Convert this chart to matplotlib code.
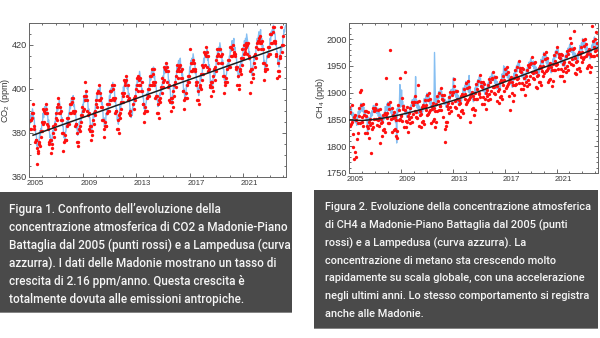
import numpy as np
import matplotlib
matplotlib.use("Agg")
import matplotlib.pyplot as plt
from matplotlib.patches import Rectangle
from matplotlib.transforms import ScaledTranslation
from matplotlib.ticker import MultipleLocator

nan = np.nan

# CO2 at Lampedusa, half-monthly values (ppm), Jan 2005 - Mar 2024
co2_lampedusa = [
    385, 384, 388, 386, 389, 387, 391, 389, 387, 387, 382, 383, 379, 379, 374, 375, 374, 376, 377, 381, 379, 382, 381, 385,
    385, 389, 387, 390, 392, 390, 391, 393, 388, 389, 385, 386, 383, 378, 379, 375, 377, 376, 381, 380, 383, 381, 385, 385,
    389, 388, 392, 390, 393, 391, 395, 393, 391, 391, 386, 387, 383, 383, 378, 379, 376, 380, 381, 385, 383, 386, 385, 389,
    389, 393, 391, 394, 396, 394, 395, 397, 392, 393, 389, 390, 387, 382, 383, 379, 381, 380, 385, 384, 387, 385, 389, 389,
    393, 392, 396, 394, 397, 395, 399, 397, 395, 395, 390, 391, 387, 387, 382, 383, 380, 384, 385, 389, 387, 390, 389, 393,
    393, 397, 395, 398, 400, 398, 399, 401, 396, 397, 393, 394, 391, 386, 387, 383, 385, 384, 389, 388, 391, 389, 393, 393,
    397, 396, 400, 398, 401, 399, 403, 401, 399, 399, 394, 395, 391, 391, 386, 387, 384, 388, 389, 393, 391, 394, 393, 397,
    397, 401, 399, 402, 404, 402, 403, 405, 400, 401, 397, 398, 395, 390, 391, 387, 389, 388, 393, 392, 395, 393, 397, 397,
    402, 401, 405, 403, 406, 404, 408, 406, 404, 404, 399, 400, 396, 396, 391, 392, 389, 393, 394, 398, 396, 399, 398, 402,
    402, 406, 404, 407, 409, 407, 408, 410, 405, 406, 402, 403, 400, 395, 396, 392, 394, 393, 398, 397, 400, 398, 402, 402,
    406, 405, 409, 407, 410, 408, 412, 410, 408, 408, 403, 404, 400, 400, 395, 396, 393, 397, 398, 402, 400, 403, 402, 406,
    406, 410, 408, 411, 413, 411, 412, 414, 409, 410, 406, 407, 404, 399, 400, 396, 398, 397, 402, 401, 404, 402, 406, 406,
    410, 409, 413, 411, 414, 412, 416, 414, 412, 412, 407, 408, 404, 404, 399, 400, 397, 401, 402, 406, 404, 407, 406, 410,
    410, 414, 412, 415, 417, 415, 416, 418, 413, 414, 410, 411, 408, 403, 404, 400, 402, 401, 406, 405, 408, 406, 410, 410,
    415, 414, 418, 416, 419, 417, 421, 419, 417, 417, 412, 413, 409, 409, 404, 405, 402, 406, 407, 411, 409, 412, 411, 415,
    415, 419, 417, 420, 422, 420, 421, 423, 418, 419, 415, 416, 413, 408, 409, 405, 407, 406, 411, 410, 413, 411, 415, 415,
    419, 418, 422, 420, 423, 421, 425, 423, 421, 421, 416, 417, 413, 413, 408, 409, 406, 410, 411, 415, 413, 416, 415, 419,
    419, 423, 421, 424, 426, 424, 425, 427, 422, 423, 419, 420, 417, 412, 413, 409, 411, 410, 415, 414, 417, 415, 419, 419,
    423, 422, 426, 424, 427, 425, 429, 427, 425, 425, 420, 421, 417, 417, 412, 413, 410, 414, 415, 419, 417, 420, 419, 423,
    424, 427, 426, 428, 429,
]

# CO2 at Madonie - Piano Battaglia, half-monthly samples (ppm), 2005 - 2023
co2_madonie = [
    386, 382, 386, 382, 389, 387, 393, 389, 382, 383, 376, 377, 377, 366, 373, 371, 372, 375, 376, 374, 381, 378, 385, 381,
    384, 391, 385, 390, 389, 393, 391, 384, 389, 382, 383, 376, 375, 377, 371, 377, 375, 373, 380, 383, 378, 384, 382, 387,
    389, 392, 386, 393, 396, 389, 392, 389, 386, 390, 386, 380, 380, 372, 376, 377, 379, 377, 377, 383, 387, 384, 387, 384,
    393, 389, 393, 389, 396, 394, 390, 396, 389, 390, 383, 384, 384, 376, 380, 376, 374, 382, 383, 381, 388, 385, 392, 388,
    390, 397, 391, 403, 395, 399, 397, 390, 395, 388, 389, 382, 381, 383, 377, 383, 381, 379, 386, 389, 384, 390, 388, 393,
    395, 398, 392, 399, 402, 395, 398, 395, 392, 396, 392, 386, 386, 378, 382, 383, 385, 383, 383, 389, 393, 390, 393, 390,
    399, 395, 399, 395, 402, 400, 396, 402, 395, 396, 389, 390, 390, 382, 386, 382, 380, 388, 389, 387, 394, 391, 398, 394,
    397, 404, 398, 403, 402, 406, 404, 397, 402, 395, 396, 389, 388, 390, nan, nan, nan, nan, 393, 396, 391, 397, 395, 400,
    402, 405, 399, 406, 404, 402, 405, 402, 399, 403, 399, 393, 393, 385, 389, 390, 392, 390, 390, 396, 400, 397, 400, 397,
    406, 402, 406, 402, 409, 407, 403, 409, 402, 403, 396, 397, 397, 389, 393, 389, 387, 395, 396, 394, 401, 398, 405, 401,
    403, 410, 404, 409, 408, 412, 410, 403, 408, 401, 402, 395, 394, 396, 390, 396, 394, 392, 399, 402, 397, 403, 401, 406,
    408, 411, 405, 409, 410, 408, 411, 408, 405, 409, 405, 399, 399, 391, 395, 396, 398, 396, 396, 402, 406, 403, 406, 403,
    418, 408, 412, 408, 412, 413, 409, 412, 408, 409, 402, 403, 403, 395, 399, 395, 393, 401, 402, 400, 407, 404, 411, 407,
    410, 417, 411, 416, 415, 419, 417, 410, 415, 408, 409, 402, 401, 403, 397, 403, 401, 399, 406, 409, 404, 410, 408, 413,
    415, 418, 412, 416, 418, 415, 418, 415, 412, 416, 412, 406, 406, 398, 402, 403, 405, 403, 403, 409, 413, 410, 413, 410,
    419, 415, 419, 415, 418, 420, 416, 417, 415, 416, 409, 410, 410, 402, 406, 402, 400, 408, 409, 407, 414, 411, 418, 414,
    416, 420, 417, 418, 421, 419, 420, 416, 421, 414, 415, 408, 398, 409, 403, 409, 407, 405, 412, 415, 410, 416, 414, 419,
    421, 422, 418, 422, 423, 421, 424, 421, 418, 422, 418, 412, 412, 404, 408, 409, 411, 409, 409, 415, 419, 416, 419, 416,
    425, 421, 425, 421, 428, 426, 422, 428, 421, 422, 415, 416, 405, 408, 412, 408, 406, 414, 415, 428, 420, 417, 424, 420,
]

# linear fit of the Madonie CO2 record (2.16 ppm/yr)
co2_trend_years = [2005.3, 2023.8]
co2_trend_ppm = [379.0, 419.0]

# CH4 at Lampedusa, half-monthly values (ppb), Jan 2005 - Mar 2024
ch4_lampedusa = [
    1898, 1862, 1872, 1863, 1873, 1857, 1863, 1852, 1862, 1855, 1846, 1858, 1844, 1850, 1839, 1856, 1852, 1865, 1857, 1870, 1862, 1874, 1880, 1868,
    1865, 1876, 1864, 1873, 1857, 1863, 1866, 1854, 1848, 1858, 1822, 1843, 1854, 1843, 1851, 1842, 1862, 1855, 1866, 1857, 1870, 1876, 1866, 1875,
    1875, 1876, 1862, 1869, 1861, 1871, 1856, 1864, 1860, 1846, 1860, 1848, 1854, 1856, 1844, 1853, 1849, 1863, 1860, 1874, 1866, 1870, 1879, 1865,
    1882, 1867, 1877, 1868, 1878, 1862, 1868, 1857, 1867, 1860, 1851, 1863, 1849, 1855, 1844, 1861, 1806, 1870, 1862, 1875, 1867, 1879, 1915, 1873,
    1876, 1905, 1875, 1884, 1868, 1874, 1877, 1865, 1859, 1869, 1865, 1854, 1865, 1854, 1862, 1853, 1873, 1866, 1877, 1868, 1881, 1887, 1877, 1886,
    1890, 1891, 1877, 1930, 1876, 1886, 1871, 1879, 1875, 1861, 1875, 1863, 1869, 1871, 1859, 1868, 1864, 1878, 1875, 1889, 1881, 1885, 1894, 1880,
    1899, 1884, 1894, 1885, 1895, 1879, 1885, 1874, 1884, 1877, 1868, 1880, 1866, 1872, 1975, 1920, 1874, 1887, 1879, 1892, 1884, 1896, 1902, 1890,
    1895, 1906, 1894, 1903, 1887, 1893, 1896, 1884, 1878, 1888, 1884, 1873, 1884, 1873, 1881, 1872, 1892, 1885, 1896, 1887, 1900, 1906, 1896, 1905,
    1910, 1928, 1897, 1904, 1896, 1906, 1891, 1899, 1895, 1881, 1895, 1883, 1889, 1891, 1879, 1888, 1884, 1898, 1895, 1909, 1901, 1905, 1914, 1900,
    1921, 1906, 1916, 1907, 1917, 1901, 1932, 1896, 1906, 1899, 1890, 1902, 1888, 1894, 1883, 1900, 1896, 1909, 1901, 1914, 1906, 1918, 1924, 1912,
    1919, 1930, 1918, 1927, 1911, 1917, 1920, 1908, 1902, 1912, 1908, 1897, 1908, 1897, 1905, 1896, 1916, 1909, 1920, 1911, 1924, 1930, 1920, 1929,
    1936, 1937, 1923, 1930, 1922, 1932, 1917, 1925, 1921, 1907, 1921, 1909, 1915, 1917, 1905, 1914, 1910, 1924, 1921, 1935, 1927, 1931, 1950, 1926,
    1948, 1933, 1943, 1934, 1944, 1928, 1934, 1923, 1933, 1926, 1917, 1929, 1915, 1921, 1910, 1927, 1923, 1936, 1928, 1941, 1933, 1945, 1951, 1939,
    1946, 1957, 1945, 1954, 1938, 1944, 1947, 1935, 1929, 1939, 1935, 1924, 1935, 1924, 1932, 1923, 1943, 1936, 1947, 1938, 1951, 1957, 1947, 1956,
    1963, 1964, 1950, 1957, 1949, 1959, 1944, 1952, 1948, 1934, 1948, 1936, 1942, 1944, 1932, 1941, 1937, 1951, 1948, 1962, 1954, 1958, 1967, 1953,
    1975, 1960, 1970, 1961, 1971, 1955, 1961, 1950, 1960, 1953, 1944, 1956, 1942, 1948, 1937, 1954, 1950, 1963, 1955, 1968, 1960, 1972, 1978, 1966,
    1972, 1983, 1971, 1980, 1964, 1970, 1973, 1961, 1955, 1965, 1961, 1950, 1961, 1950, 1958, 1949, 1969, 1962, 1973, 1964, 1977, 1983, 1973, 1982,
    1989, 1990, 1976, 1983, 1975, 1985, 1970, 1978, 1974, 1960, 1974, 1962, 1968, 1970, 1958, 1967, 1963, 1977, 1974, 1988, 1980, 1984, 1993, 1979,
    2001, 1986, 1996, 1987, 1997, 1981, 1987, 1976, 1986, 1979, 1970, 1982, 1968, 1974, 1963, 1980, 1976, 1989, 1981, 1994, 1986, 1998, 2004, 1992,
    1985, 1995, 1982, 1990, 1978,
]

# CH4 at Madonie - Piano Battaglia, half-monthly samples (ppb), Jan 2005 - Feb 2024
ch4_madonie = [
    1874, 1838, 1864, 1842, 1877, 1845, 1798, 1822, 1776, 1854, 1790, 1858, 1780, 1849, 1814, 1844, 1824, 1856, 1872, 1844, 1902, 1905, 1877, 1854,
    1846, 1879, 1837, 1859, 1865, 1825, 1857, 1865, 1837, 1825, 1863, 1834, 1846, 1815, 1851, 1839, 1788, 1832, 1843, 1871, 1835, 1866, 1850, 1872,
    1867, 1850, 1878, 1839, 1849, 1868, 1837, 1853, 1869, 1806, 1851, 1843, 1820, 1845, 1831, 1858, 1832, 1862, 1827, 1858, 1927, 1853, 1862, 1843,
    1879, 1843, 1869, 1980, 1882, 1850, 1872, 1827, 1853, 1859, 1830, 1863, 1833, 1854, 1819, 1849, 1829, 1815, 1877, 1849, 1867, 1850, 1928, 1859,
    1857, 1890, 1848, 1870, 1876, 1836, 1868, 1938, 1848, 1836, 1874, 1845, 1857, 1826, 1862, 1850, 1872, 1843, 1854, 1882, 1846, 1877, 1861, 1883,
    1882, 1865, 1893, 1854, 1864, 1883, 1852, 1915, 1884, 1838, 1866, 1858, 1835, 1860, 1846, 1873, 1847, 1877, 1842, 1873, 1886, 1868, 1877, 1858,
    1896, 1860, 1886, 1864, 1899, 1867, 1889, 1844, 1870, 1876, 1847, 1880, 1850, 1871, 1836, 1866, 1846, 1878, 1894, 1866, 1884, 1867, 1899, 1876,
    1876, 1909, 1867, 1889, 1895, 1855, 1887, 1895, 1807, 1832, 1838, 1845, 1876, 1845, 1881, 1869, 1891, 1862, 1873, 1901, 1865, 1896, 1880, 1902,
    1902, 1925, 1913, 1874, 1884, 1903, 1872, 1888, 1904, 1858, 1886, 1878, 1855, 1880, 1866, 1893, 1867, 1897, 1862, 1893, 1906, 1888, 1897, 1878,
    1918, 1882, 1908, 1886, 1921, 1889, 1911, 1846, 1892, 1898, 1869, 1902, 1872, 1893, 1858, 1888, 1868, 1900, 1916, 1888, 1906, 1889, 1921, 1898,
    1900, 1933, 1891, 1913, 1919, 1879, 1911, 1919, 1891, 1879, 1917, 1888, 1900, 1869, 1905, 1893, 1915, 1886, 1897, 1925, 1889, 1920, 1904, 1926,
    1928, 1911, 1939, 1900, 1910, 1929, 1898, 1914, 1930, 1884, 1912, 1904, 1881, 1906, 1892, 1919, 1893, 1923, 1888, 1919, 1932, 1914, 1923, 1904,
    1945, 1909, 1935, 1913, 1948, 1916, 1938, 1893, 1919, 1925, 1867, 1929, 1899, 1920, 1885, 1915, 1895, 1927, 1943, 1915, 1933, 1916, 1948, 1925,
    1927, 1960, 1918, 1940, 1946, 1906, 1938, 1946, 1918, 1906, 1944, 1915, 1927, 1896, 1932, 1920, 1942, 1913, 1924, 1952, 1916, 1947, 1931, 1953,
    1955, 1938, 1966, 1927, 1937, 1956, 1925, 1941, 1957, 1911, 1939, 1931, 1908, 1933, 1919, 1946, 1920, 1950, 1915, 1946, 1959, 1941, 1950, 1931,
    1972, 1936, 1962, 1940, 1975, 1943, 1965, 1920, 1946, 1952, 1923, 1956, 1926, 1947, 1912, 1942, 1922, 1954, 1970, 1942, 1960, 1943, 1975, 1952,
    1953, 1986, 1944, 1966, 1972, 1932, 1964, 1972, 1944, 1932, 1970, 1941, 1953, 1922, 1958, 1946, 1968, 1939, 1950, 1978, 1942, 1973, 1957, 1979,
    1981, 2002, 1992, 1953, 1963, 1982, 1951, 2016, 1983, 1937, 1965, 1957, 1934, 1959, 1945, 1972, 1946, 1976, 1941, 1972, 1985, 1967, 1976, 1957,
    1998, 1962, 1988, 1966, 2001, 1969, 1991, 1946, 1972, 1978, 1949, 1982, 1952, 1973, 1938, 1968, 1948, 2025, 1996, 1968, 1986, 1969, 2001, 1978,
    1980, 2013, 1971, 1993,
]

# smooth fit of the Madonie CH4 record (ppb)
ch4_trend_years = [2005, 2006, 2007, 2008, 2009, 2010, 2011, 2012, 2013, 2014,
                   2015, 2016, 2017, 2018, 2019, 2020, 2021, 2022, 2023, 2024, 2024.2]
ch4_trend_ppb = [1849, 1848, 1850, 1854, 1859, 1865, 1871, 1878, 1885, 1893,
                 1902, 1911, 1920, 1929, 1938, 1947, 1955, 1964, 1973, 1982, 1984]

tick_years = [2005, 2009, 2013, 2017, 2021]

caption_1 = [
    "Figura 1. Confronto dell\u2019evoluzione della",
    "concentrazione atmosferica di CO2 a Madonie-Piano",
    "Battaglia dal 2005 (punti rossi) e a Lampedusa (curva",
    "azzurra). I dati delle Madonie mostrano un tasso di",
    "crescita di 2.16 ppm/anno. Questa crescita \u00e8",
    "totalmente dovuta alle emissioni antropiche.",
]
caption_2 = [
    "Figura 2. Evoluzione della concentrazione atmosferica",
    "di CH4 a Madonie-Piano Battaglia dal 2005 (punti",
    "rossi) e a Lampedusa (curva azzurra). La",
    "concentrazione di metano sta crescendo molto",
    "rapidamente su scala globale, con una accelerazione",
    "negli ultimi anni. Lo stesso comportamento si registra",
    "anche alle Madonie.",
]

plt.rcParams["font.family"] = ["Liberation Sans", "DejaVu Sans"]
plt.rcParams["mathtext.default"] = "regular"

W, H = 600, 338
fig = plt.figure(figsize=(W / 100, H / 100), dpi=100)
fig.patch.set_facecolor("white")

BLUE = "#86bff2"
RED = "#ff1010"
INK = "#3a3a3a"
BOX = "#4a4a4a"
CAPTION_FONT = ["Roboto", "DejaVu Sans"]


def axes_px(left, top, right, bottom):
    return fig.add_axes([left / W, 1 - bottom / H, (right - left) / W, (bottom - top) / H])


def half_months(n, phase):
    return 2005 + (np.arange(n) + phase) / 24.0


def style(ax, ylim, ymajor, yminor, ylabel, label_x):
    ax.set_xlim(2005, 2024.2)
    ax.set_ylim(*ylim)
    ax.set_xticks(tick_years, [str(y) for y in tick_years])
    ax.xaxis.set_minor_locator(MultipleLocator(1))
    ax.yaxis.set_major_locator(MultipleLocator(ymajor))
    ax.yaxis.set_minor_locator(MultipleLocator(yminor))
    ax.tick_params(which="both", direction="in", top=True, right=True,
                   color="#555555", width=0.6)
    ax.tick_params(which="major", length=3)
    ax.tick_params(which="minor", length=1.6)
    ax.tick_params(axis="x", labelsize=5.6, pad=2.2, labelcolor=INK)
    ax.tick_params(axis="y", labelsize=6.6, pad=1.5, labelcolor=INK)
    for sp in ax.spines.values():
        sp.set_color("#666666")
        sp.set_linewidth(0.7)
    # year labels sit in the middle of their year
    shift = ScaledTranslation(6.6 / 100, 0, fig.dpi_scale_trans)
    for lab in ax.get_xticklabels():
        lab.set_transform(lab.get_transform() + shift)
    ax.set_ylabel(ylabel, fontsize=6.6, color=INK)
    ax.yaxis.set_label_coords(label_x, 0.5)


# --- CO2 panel ---
ax1 = axes_px(29, 23, 286, 177)
ax1.plot(half_months(len(co2_lampedusa), 0.25), co2_lampedusa, color=BLUE, lw=1.0, zorder=1)
ax1.plot(half_months(len(co2_madonie), 0.75), co2_madonie, ls="none", marker="o",
         ms=2.4, mew=0, color=RED, zorder=2)
ax1.plot(co2_trend_years, co2_trend_ppm, color="#1e1e1e", lw=1.1, zorder=3)
style(ax1, (360, 430), 20, 5, "CO$_2$ (ppm)", -0.068)

# --- CH4 panel ---
ax2 = axes_px(349, 23, 598, 173)
ax2.plot(half_months(len(ch4_lampedusa), 0.25), ch4_lampedusa, color=BLUE, lw=1.0, zorder=1)
ax2.plot(half_months(len(ch4_madonie), 0.75), ch4_madonie, ls="none", marker="o",
         ms=2.4, mew=0, color=RED, zorder=2)
ax2.plot(ch4_trend_years, ch4_trend_ppb, color="#1e1e1e", lw=1.1, zorder=3)
style(ax2, (1750, 2030), 50, 10, "CH$_4$ (ppb)", -0.09)


# --- caption boxes ---
def caption(left, top, right, bottom, lines, first_y, step, text_x, size):
    fig.add_artist(Rectangle((left / W, 1 - bottom / H), (right - left) / W, (bottom - top) / H,
                             transform=fig.transFigure, facecolor=BOX, edgecolor="none"))
    fig.add_artist(Rectangle((left / W, 1 - bottom / H), (right - left) / W, 1.2 / H,
                             transform=fig.transFigure, facecolor="#858585", edgecolor="none"))
    for i, line in enumerate(lines):
        fig.text(text_x / W, 1 - (first_y + i * step) / H, line, color="#f6f6f6",
                 fontsize=size, fontweight="medium", family=CAPTION_FONT,
                 ha="left", va="center")


caption(0, 192, 292, 313, caption_1, 209.5, 18.0, 9, 8.45)
caption(314, 190, 598, 329, caption_2, 207.5, 17.7, 325, 7.9)

fig.savefig("out.png", dpi=100)
